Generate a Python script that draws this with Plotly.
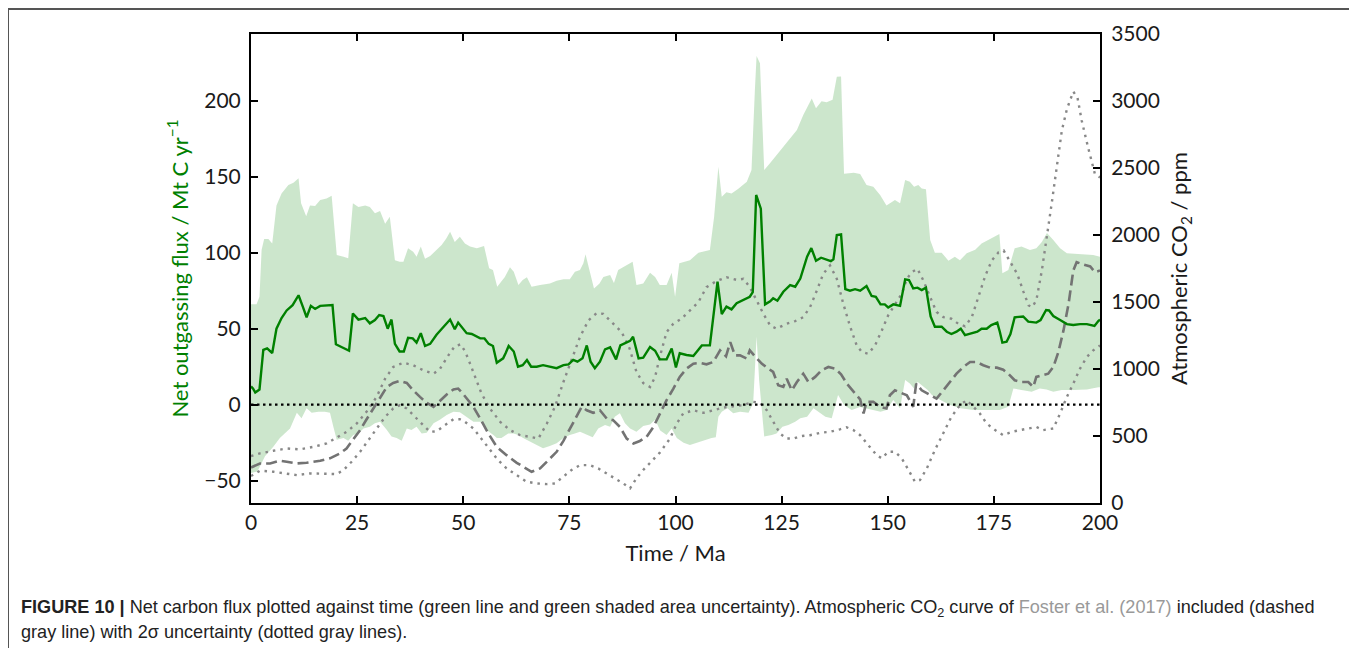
import plotly.graph_objects as go

# ---------------- data ----------------
flux_t = [0, 0.5, 1, 2, 2.9, 3.8, 5, 6, 7.2, 8.4, 9.8, 11.2, 12.2, 13.1, 14.1, 15.1, 16.3, 17.8, 19.2,
          20, 21.8, 23.1, 24, 25.3, 26.9, 28, 29.2, 30.2, 31.2, 32.2, 33.1, 33.9, 35, 36, 37, 38.1, 39,
          40, 41, 42.2, 43.7, 45.3, 46.9, 48, 48.8, 50.8, 52, 54, 55, 56, 57, 57.9, 59.4, 60, 60.7,
          61.9, 62.9, 64, 65, 66, 67.3, 68.8, 70.4, 72, 73.6, 74.8, 75.9, 76.9, 78.1, 79.1, 80, 81,
          82.2, 83.4, 84.6, 86, 87, 88.1, 89.3, 90, 91.3, 92.4, 94, 95.2, 96.3, 97.9, 99.1, 100.1,
          101, 102.6, 104.2, 106.2, 108.1, 109.9, 110.9, 112, 113.2, 114.4, 116, 117.5, 118.2, 119,
          120.1, 121.1, 122.3, 123, 124, 125.4, 127, 128.2, 129.4, 131, 132, 133.1, 134.3, 135.6,
          136.6, 137.2, 138, 139, 140, 141.1, 142.3, 143.5, 145, 146.2, 147.2, 148.3, 149.3, 150.1,
          151.3, 152.9, 154.1, 155, 156, 157, 158, 159, 160.1, 161.1, 162.7, 163.9, 165, 166.2, 167.2,
          168.2, 169.8, 171.1, 172.1, 173.3, 174.4, 175.8, 176.4, 177, 178, 178.9, 179.9, 181.9,
          183.1, 185, 186, 187.3, 188, 189, 190.6, 192.2, 193.7, 195.3, 196.9, 198.7, 199.6, 200]
flux_mean = [12, 10.5, 8, 10, 36, 37, 34, 50, 57, 62, 65.5, 72, 64.5, 57.5, 65, 63, 65, 65.5, 65.5,
             39.7, 37, 35.5, 60, 56, 57, 53.5, 55.7, 59, 58.3, 50, 56, 40, 35, 35, 44, 43.6, 40.8,
             47, 38.6, 40, 46, 51, 56, 49.6, 54, 47, 46.5, 43.6, 43.6, 40, 38.6, 27.6, 30.5, 34, 38.6,
             35, 25, 26, 29.4, 25, 25, 26, 25, 24, 26, 26.5, 29.4, 28.3, 30.5, 39, 28.3, 24,
             28.3, 36.4, 37.7, 29.8, 39, 40.4, 42, 44.7, 30.5, 31, 38, 35.5, 29.8, 29.8, 37, 24.5,
             33.8, 32.7, 32, 39, 39, 81, 59.6, 64.5, 62.7, 66.7, 69, 71, 74, 138,
             129, 66, 68, 70, 68.4, 74.3, 78.7, 77.6, 83, 97.4, 103, 94.7, 96.7, 95.6,
             94.5, 95.6, 111.6, 112, 76, 75, 76, 75, 78, 71.5, 71, 66, 66, 64,
             66, 65, 82.5, 82, 76.5, 77, 75.4, 77, 58, 51.3, 51.3, 48, 46.5, 48, 50,
             45.8, 47, 48, 50, 50, 52.4, 54, 48, 40.8, 41.4, 46.5, 57.5, 58,
             54.6, 54, 55.7, 62.3, 62, 58.3, 55.7, 53, 52.4, 53, 53, 51.8, 55, 56]

upper_t = [0, 1.3, 2, 2.5, 3.1, 4.1, 5, 6, 7.2, 8.8, 10, 11.2, 11.8, 13, 13.9, 15.1, 16.3, 17.8, 19,
           20.2, 21.8, 22.9, 24, 25.3, 26.9, 28, 29.2, 30.4, 31.6, 32.7, 33.9, 35, 35.9, 37, 38.2,
           39, 40, 41, 42.2, 43.7, 44.9, 46, 46.9, 48, 49.2, 50.4, 51.6, 53.2, 54.9, 56.1, 57, 58,
           59.8, 61, 61.9, 63, 64, 65, 66.1, 68.1, 70.4, 72, 73.6, 75.1, 76.3, 77.5, 78.3, 78.8,
           79.5, 80.8, 82.1, 83, 84.6, 85.5, 86.5, 88.1, 89.9, 90.8, 92.4, 94, 95.2, 96.3, 97.9,
           99.1, 99.9, 100.9, 103.4, 105.4, 106.6, 108.1, 109.1, 110.1, 110.9, 112, 113.2, 114.8,
           116.8, 117.9, 118.7, 119.1, 119.9, 120.9, 122.3, 123.8, 125.4, 127, 128.6, 130.1, 131.3,
           132.1, 133.1, 134.4, 135.6, 137, 138, 139, 139.7, 142, 143.5, 145, 146.6, 148.2, 149.7,
           151.7, 152.9, 154.1, 155.2, 156.2, 157.2, 158, 159, 160, 161.1, 162.7, 164.3, 165.8,
           167, 168.6, 170.6, 172.1, 174.1, 175.7, 176.3, 177, 178.4, 179.9, 181.5, 183.5, 185,
           186.3, 187.5, 189, 190.6, 192.2, 195.3, 198.4, 200]
flux_upper = [66, 66, 71, 102, 109, 109, 106, 131, 139, 144.5, 146, 149, 132.5, 124, 131, 130.7, 134.6,
              135.7, 137.5, 98.5, 97.4, 96.3, 132.5, 130, 131, 130, 126, 127.4, 119, 123.7, 95, 94,
              94, 103, 100.7, 97.4, 104, 96, 97.8, 101.8, 105, 109.4, 113.8, 107, 110.5, 106, 104,
              103, 104.4, 89.7, 88.6, 77.6, 84, 90.4, 87.5, 78.7, 82, 83.8, 77.6, 78.7, 79.8, 81.6,
              82.5, 82.5, 87.5, 88.6, 93, 99, 90.8, 76.5, 79.8, 84, 85.3, 80, 88.6, 91, 94, 78.7,
              79.8, 86.8, 84, 78.7, 78.7, 86.8, 71, 93, 95, 100, 100.7, 101.8, 123.7, 156.6, 136.8,
              139.7, 139, 142, 146.7, 154.4, 207, 229.4, 224.6, 154.4, 159, 164, 169.7, 175, 180.7,
              190.6, 197, 201.5, 195, 199.6, 199, 200.7, 215.8, 216, 152, 152.6, 151.8, 144.5,
              143.4, 138, 131, 134.6, 132.5, 147.8, 146.7, 143.4, 144.5, 142.3, 141.7, 108.3, 100,
              100, 94.7, 97.4, 95, 99.6, 102, 106, 109, 111.6, 112.3, 86.4, 88.6, 102.9, 104, 101.8,
              103, 107, 113, 108.3, 103, 99.6, 99, 98.5, 97.4]

lower_t = [0, 1.5, 3.3, 5.3, 6.8, 9.2, 10.8, 11.9, 13.1, 14.3, 15.9, 17.4, 18.6, 19.4, 20.2, 21.8,
           22.9, 24.1, 25.3, 26.5, 28, 29.2, 30.4, 32, 33.1, 34.3, 35.5, 36.7, 37.8, 39, 40.2, 41.4,
           43, 44.5, 46.1, 47.7, 49.2, 50.8, 52.4, 54, 55.5, 57.1, 57.9, 59, 60.6, 61.8, 63, 64.1,
           65.7, 67.3, 68.8, 70.4, 72, 73.6, 75.1, 76.3, 77.5, 79.1, 80.5, 81.8, 83.4, 84.6, 85.7,
           86.9, 88.1, 89.3, 90.8, 92.4, 94, 95.2, 96.4, 97.9, 99.1, 100.3, 101.9, 103.4, 105,
           106.6, 108.5, 109.5, 110.1, 110.9, 112.2, 113.6, 115.2, 117.2, 118.3, 119.1, 119.7,
           120.9, 122.7, 123.8, 125.2, 126.6, 128.2, 129.4, 131, 132.5, 134.1, 135.3, 136.8, 138.3,
           139.7, 141.5, 143.5, 146.6, 148.3, 149.7, 151.3, 152.9, 154.1, 155.2, 156.2, 157, 158.4,
           159.4, 160.4, 162.4, 164.7, 167.1, 170.2, 173.3, 176.4, 178.4, 179.6, 181.5, 183.9,
           185.8, 187.4, 189, 191, 193.7, 196.9, 199.6, 200]
flux_lower = [-45, -44, -34, -27.6, -22, -15.6, -5.3, -9, -2.4, -5.3, -4.6, -4.6, -5.3, -14.5, -23,
              -22, -23.7, -20, -18.9, -15.6, -14.5, -12.3, -11.2, -16.7, -21, -22, -23.7, -15.6,
              -16.7, -14.5, -18.9, -18.4, -12.3, -10, -6.8, -4.6, -5, -7.9, -11.2, -11.2, -16.7,
              -20, -22, -22, -18.9, -18.9, -20, -22, -24.3, -26.5, -28.7, -27.2, -25.4, -22, -20,
              -18.9, -17.8, -20, -21.5, -15.6, -13.4, -14.5, -7.9, -5.7, -12.3, -15.6, -17.8, -14,
              -13, -10, -17, -20, -15.6, -22, -25, -26.5, -25.4, -23.7, -22, -21.5, -7.9, -4.6,
              -2.4, -5.7, -4.6, -5.3, 0.9, 44.7, 16, -21, -20, -18.9, -14.5, -13.4, -11.2, -9,
              -7.9, -2.4, -5.7, -7.9, -9, 6.4, -0.2, -3.5, -1.5, -3.5, -4.6, -3.5, 3, -2.4, 16.2,
              14, 10.7, 15, 11.8, 9.6, 6.4, 3, -0.2, -2.4, -3.5, -3.5, -3.5, -1.3, 10.7, 9.6, 8.5,
              10.7, 10, 8.5, 9.6, 9.6, 10, 11.4, 11.4]

co2_t = [0, 2.1, 4.5, 6.8, 8.4, 10.8, 13.1, 16.3, 18.6, 21, 22.5, 24.1, 25.7, 27.2, 28.8, 30.4, 32,
         33.5, 35.1, 36.7, 38.2, 39.8, 41.4, 43, 44.5, 46.1, 47.7, 48.8, 49.9, 51.2, 52.4, 54, 55.9,
         57.9, 60.2, 62.6, 64.6, 66.1, 68.1, 70.1, 72, 73.6, 75.1, 76.7, 77.9, 79.1, 80.6, 82.2,
         83.8, 85.3, 86.9, 88.5, 90.1, 91.6, 93.2, 94.8, 96.3, 97.9, 99.5, 101, 102.6, 104.2,
         105.8, 107.3, 108.9, 110.5, 111.9, 112.9, 114, 115.2, 116.8, 117.5, 118.7, 120.3, 121.9,
         123, 124.2, 125.4, 126.2, 127.4, 128.6, 130.1, 131.3, 132.9, 134.4, 136, 137.6, 139,
         140.5, 142, 143.5, 144.3, 145, 146.6, 148.2, 149.7, 150.5, 151.7, 153.3, 154.5, 156,
         156.7, 158, 160, 161.5, 163.1, 164.7, 166.2, 167.8, 169.4, 171, 172.5, 174.1, 175.7,
         177.2, 178.4, 179.9, 181.5, 183.1, 184.3, 185, 186.3, 187.8, 189, 190.2, 191.4, 192.6,
         193.7, 194.5, 196.1, 197.7, 198.8, 200]
co2_mean = [265, 295, 295, 315, 308, 295, 300, 315, 333, 370, 407, 474, 544, 623, 705, 792, 866,
            896, 911, 896, 841, 792, 747, 717, 760, 810, 848, 854, 817, 767, 717, 630, 519, 419,
            357, 300, 258, 233, 258, 320, 382, 464, 556, 643, 717, 692, 673, 692, 630, 618, 568,
            481, 444, 463, 494, 568, 668, 767, 854, 941, 1003, 1040, 1045, 1035, 1052, 1139, 1095,
            1201, 1102, 1102, 1077, 1139, 1095, 1040, 1003, 978, 879, 866, 928, 841, 903, 965,
            903, 941, 990, 1015, 1003, 960, 885, 830, 773, 668, 755, 755, 717, 705, 804, 841,
            817, 804, 717, 891, 841, 804, 779, 841, 903, 965, 1015, 1052, 1052, 1028, 1010, 1010,
            995, 965, 916, 903, 903, 866, 941, 953, 965, 1015, 1127, 1288, 1487, 1735, 1797, 1780,
            1765, 1723, 1735]

co2_hi_t = [0, 2.1, 5.3, 8.4, 11.5, 14.7, 17.8, 20.2, 22.5, 24.9, 27.2, 29.6, 31.6, 33.5, 35.9,
            38.2, 40.6, 43, 44.5, 46.5, 48, 49.4, 50.5, 51.6, 52.8, 54.3, 56.3, 58.7, 61, 63.4,
            65.7, 67.7, 69.7, 71.6, 73.6, 75.5, 77.5, 79.5, 81.4, 83, 84.9, 87.3, 89.2, 90.8, 92.4,
            94, 95.2, 96.3, 97.9, 99.5, 101.4, 103.4, 105.4, 107.3, 109.6, 112, 114.4, 116, 117.5,
            119.1, 120.7, 122.3, 123.8, 126.2, 128.2, 130.1, 131.7, 133.3, 134.8, 136.4, 138,
            139.5, 141.1, 142.7, 143.9, 145.4, 147, 148.6, 150.1, 151.7, 153.3, 154.5, 155.7, 157,
            158.4, 160, 161.5, 163.1, 165, 166.6, 168.2, 169.8, 171.4, 173, 174.5, 176.1, 177.3,
            178.9, 180.5, 182, 183.2, 184, 185, 186.3, 187.5, 188.6, 189.8, 191, 192.2, 193.7,
            194.7, 195.7, 197.2, 198.8, 200]
co2_hi = [350, 370, 390, 407, 400, 419, 444, 489, 531, 593, 680, 792, 928, 1015, 1047, 1028, 990,
          965, 1000, 1102, 1170, 1184, 1127, 1040, 941, 817, 705, 606, 544, 506, 494, 481, 593,
          717, 903, 1065, 1239, 1363, 1417, 1412, 1350, 1276, 1152, 978, 895, 866, 941, 1090,
          1276, 1338, 1375, 1437, 1499, 1611, 1655, 1685, 1665, 1673, 1611, 1512, 1412, 1325,
          1301, 1338, 1358, 1387, 1462, 1586, 1710, 1772, 1673, 1490, 1320, 1175, 1127, 1114,
          1176, 1288, 1400, 1482, 1561, 1673, 1723, 1747, 1660, 1536, 1425, 1387, 1375, 1338,
          1318, 1387, 1536, 1698, 1809, 1871, 1884, 1797, 1710, 1574, 1474, 1462, 1512, 1735,
          1983, 2231, 2504, 2777, 2939, 3070, 3025, 2852, 2653, 2455, 2430]

co2_lo_t = [0, 2.1, 5.3, 8.4, 10.8, 13.9, 17, 20.2, 21.8, 23.7, 25.7, 27.6, 29.6, 31.6, 33.5, 35.1,
            36.7, 38.2, 40.2, 42.2, 43.7, 45.7, 47.7, 49.2, 50.4, 52.4, 54.3, 56.3, 58.2, 60.2,
            62.6, 64.9, 67.3, 69.7, 71.6, 73.6, 75.5, 77.5, 79.8, 81.8, 83.8, 85.7, 87.7, 89.3,
            90.8, 92.4, 94, 96.3, 98.7, 100.3, 101.8, 104.2, 106.6, 108.9, 111.3, 113.6, 116,
            118.3, 119.9, 121.5, 123, 124.6, 126.2, 127.8, 129.4, 131.7, 134.1, 136.4, 138.7,
            140.3, 141.9, 143.5, 145.4, 147.4, 148.6, 150.1, 151.7, 153.3, 154.9, 156.4, 157.6,
            159.2, 161.1, 163.1, 165, 167, 168.6, 170.2, 171.7, 173.3, 175.3, 177.2, 179.2, 181.2,
            183.1, 185, 186.6, 189, 190.6, 192.2, 193.7, 195.3, 196.9, 198.4, 200]
co2_lo = [201, 241, 233, 221, 208, 221, 221, 216, 246, 308, 382, 469, 556, 643, 705, 730, 705, 655,
          593, 531, 535, 581, 625, 625, 606, 556, 481, 395, 320, 258, 208, 159, 146, 141, 146, 196,
          246, 283, 283, 258, 221, 184, 146, 109, 184, 246, 300, 376, 481, 593, 668, 692, 673,
          692, 712, 722, 730, 755, 747, 692, 606, 519, 481, 481, 499, 506, 524, 531, 550, 565,
          544, 506, 432, 357, 333, 382, 382, 333, 246, 159, 171, 258, 395, 519, 643, 730, 767,
          717, 668, 593, 544, 506, 531, 544, 556, 568, 544, 556, 668, 792, 891, 1003, 1090, 1139,
          1176]

x_ticks = [0, 25, 50, 75, 100, 125, 150, 175, 200]
y_ticks = [-50, 0, 50, 100, 150, 200]
y_ticktext = ["\u221250", "0", "50", "100", "150", "200"]
y2_ticks = [0, 500, 1000, 1500, 2000, 2500, 3000, 3500]
zero_t = [0, 200]
zero_level = [0, 0]

GREEN = "#008000"
FONT = "Lato"
TICK_SIZE = 21
TITLE_SIZE = 22

fig = go.Figure()

# uncertainty band (closed polygon built from upper + reversed lower bound)
fig.add_trace(go.Scatter(
    x=upper_t + lower_t[::-1], y=flux_upper + flux_lower[::-1],
    mode="lines", fill="toself", fillcolor="rgba(0,128,0,0.2)",
    line=dict(width=0), hoverinfo="skip", showlegend=False))

# zero line (on the top x axis twin, which only carries the mirrored ticks)
fig.add_trace(go.Scatter(x=zero_t, y=zero_level, xaxis="x2", mode="lines",
                         line=dict(color="black", width=2.2, dash="2.5px,3.5px"),
                         showlegend=False))

# CO2 curves (right axis)
fig.add_trace(go.Scatter(x=co2_hi_t, y=co2_hi, yaxis="y2", mode="lines",
                         line=dict(color="#888888", width=2.4, dash="2.5px,5px"),
                         showlegend=False))
fig.add_trace(go.Scatter(x=co2_lo_t, y=co2_lo, yaxis="y2", mode="lines",
                         line=dict(color="#888888", width=2.4, dash="2.5px,5px"),
                         showlegend=False))
fig.add_trace(go.Scatter(x=co2_t, y=co2_mean, yaxis="y2", mode="lines",
                         line=dict(color="#737373", width=2.6, dash="11px,5px"),
                         showlegend=False))

# flux mean (own overlaying axis so it sits on top)
fig.add_trace(go.Scatter(x=flux_t, y=flux_mean, yaxis="y3", mode="lines",
                         line=dict(color=GREEN, width=2.4), showlegend=False))

L_RANGE = [-64.7, 243.9]
TICK_STYLE = dict(ticks="inside", ticklen=7, tickwidth=1.5, tickcolor="black")

# the page body has an 8px margin: figure is 1349x640, plot area at screen x 251-1100, y 34-503
fig.update_layout(
    width=1349, height=640,
    margin=dict(l=243, r=257, t=26, b=145),
    paper_bgcolor="white", plot_bgcolor="white",
    font=dict(family=FONT, size=TICK_SIZE, color="#1a1a1a"),
    showlegend=False,
    xaxis=dict(range=[0, 200], tickvals=x_ticks, **TICK_STYLE,
               showline=True, linecolor="black", linewidth=2,
               mirror=True, showgrid=False, zeroline=False,
               title=dict(text="Time / Ma", standoff=12, font=dict(size=TITLE_SIZE)),
               tickfont=dict(size=TICK_SIZE)),
    xaxis2=dict(range=[0, 200], tickvals=x_ticks, **TICK_STYLE, overlaying="x", side="top",
                showticklabels=False, showline=False, showgrid=False, zeroline=False),
    yaxis=dict(range=L_RANGE, tickvals=y_ticks, ticktext=y_ticktext, **TICK_STYLE,
               showline=True, linecolor="black", linewidth=2, showgrid=False, zeroline=False,
               ticklabelstandoff=4,
               title=dict(text="Net outgassing flux / Mt C yr<sup>\u22121</sup>", standoff=10,
                          font=dict(color=GREEN, size=TITLE_SIZE)),
               tickfont=dict(size=TICK_SIZE)),
    yaxis2=dict(range=[0, 3500], tickvals=y2_ticks, overlaying="y", side="right", **TICK_STYLE,
                showline=True, linecolor="black", linewidth=2, showgrid=False, zeroline=False,
                ticklabelstandoff=5,
                title=dict(text="Atmospheric CO<sub>2</sub> / ppm", standoff=13,
                           font=dict(size=TITLE_SIZE)),
                tickfont=dict(size=TICK_SIZE)),
    yaxis3=dict(range=L_RANGE, overlaying="y", visible=False),
)

# outer frame of the figure panel
fig.add_shape(type="rect", xref="paper", yref="paper",
              x0=(8 - 251) / 849, x1=(1355 - 251) / 849,
              y0=(503 - 700) / 469, y1=(503 - 9) / 469,
              line=dict(color="#555555", width=2), layer="below")

# caption
cap1 = ("<b>FIGURE 10 |</b> Net carbon flux plotted against time (green line and green shaded area "
        "uncertainty). Atmospheric CO<sub>2</sub> curve of "
        "<span style='color:#999999'>Foster et al. (2017)</span> included (dashed")
cap2 = "gray line) with 2\u03c3 uncertainty (dotted gray lines)."
for txt, py in [(cap1, 608), (cap2, 632)]:
    fig.add_annotation(text=txt, xref="paper", yref="paper",
                       x=(19 - 251) / 849, y=(503 - py) / 469,
                       xanchor="left", yanchor="middle", showarrow=False, align="left",
                       font=dict(family="Liberation Sans", size=18.1, color="#222222"))

fig.write_html("out.html")
